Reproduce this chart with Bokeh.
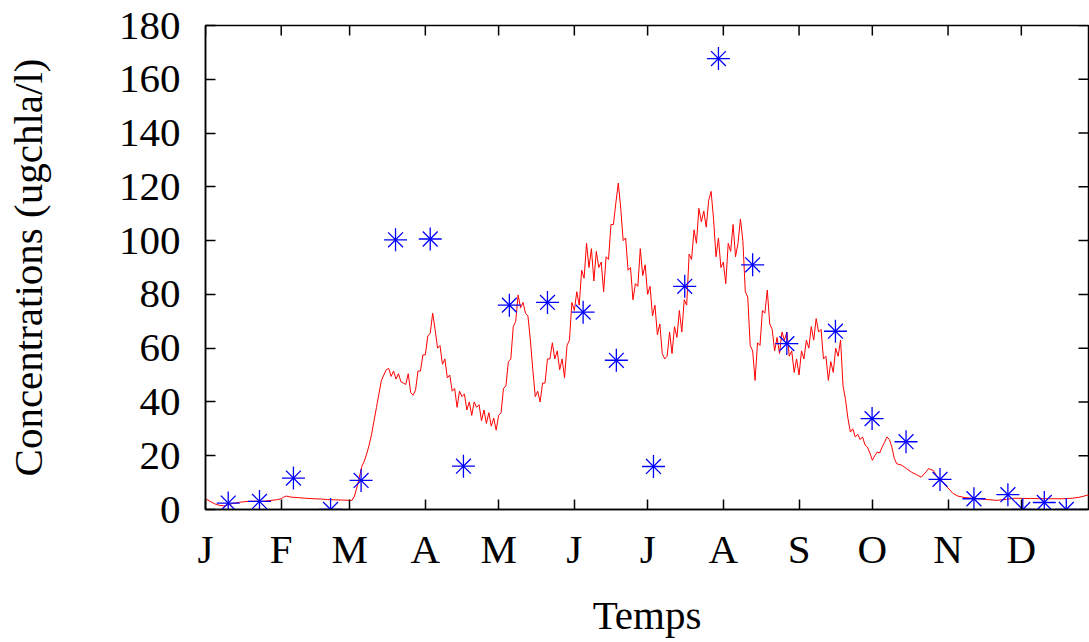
import math
from bokeh.plotting import figure
from bokeh.models import FixedTicker, ColumnDataSource
from bokeh.embed import file_html
from bokeh.resources import INLINE

# ---- data ----
month_starts = [0, 31, 59, 90, 120, 151, 181, 212, 243, 273, 304, 334]
month_labels = ["J", "F", "M", "A", "M", "J", "J", "A", "S", "O", "N", "D"]
y_ticks = [0, 20, 40, 60, 80, 100, 120, 140, 160, 180]
x_end = 361.5
y_top = 180

obs_days = [9.3, 22.1, 36, 51.2, 63.7, 77.8, 92, 105.6, 124.4, 140, 154.6, 168.2,
            183.4, 196.2, 210, 224, 238, 257.9, 272.9, 286.8, 300.7, 314.6,
            328.5, 334.6, 343.4, 352.4]
obs_vals = [2.4, 3.0, 11.7, 0.0, 10.8, 100.3, 100.6, 16.1, 76, 77, 73.4, 55.5,
            16, 83, 167.7, 91, 61.7, 66.3, 33.8, 25.2, 11.2, 4.0,
            5.5, 0.0, 2.6, 0.0]

sim_days_start = [0, 2, 4, 6, 8, 11, 14, 17, 20, 23, 26, 29, 31, 32, 33, 35, 38,
                  41, 44, 47, 50, 53, 56, 59, 60, 61]
sim_vals_start = [4.0, 3.0, 2.0, 1.5, 1.3, 2.2, 2.7, 3.0, 3.1, 3.0, 3.3, 3.6, 4.0,
                  4.6, 5.0, 4.6, 4.4, 4.2, 4.0, 3.9, 3.7, 3.6, 3.5, 3.4, 3.4, 5.0]

# daily values, day 62 .. 264
sim_vals_bloom = [
    8.3, 12, 16, 18, 20.7, 24, 28, 33, 38, 43, 48, 50, 52,            # 62-74
    52.5, 49.5, 51.5, 48.5, 50.5, 47.5, 47, 46.5, 50.5, 43.5,         # 75-84
    42.5, 44.5, 51.5, 51.5, 57.5, 57.5, 64.5, 65.5,                   # 85-92
    73, 67, 60, 61, 54, 56, 49, 50, 44, 45, 38, 44,                   # 93-104
    42, 43, 37, 40, 35, 40, 38, 39, 33, 37,                           # 105-114
    32, 36, 31, 34, 29.5, 35, 36, 45, 46, 55,                         # 115-124
    56, 68, 70, 79.8, 75, 77, 73, 72, 63, 52,                         # 125-134
    42, 44, 40, 47, 47, 56, 56, 62, 56, 59,                           # 135-144
    52, 56, 49, 61, 63, 77, 74, 81, 76, 89,                           # 145-154
    86, 99, 90, 97, 85, 96, 90, 92, 81, 94,                           # 155-164
    93, 106, 106, 114, 121.4, 112, 100, 101, 89, 90,                  # 165-174
    78, 84, 83, 97, 87, 91, 80, 83, 72, 76,                           # 175-184
    65, 69, 58, 56, 57, 66, 58, 68, 64, 74,                           # 185-194
    66, 78, 76, 95, 93, 104, 99, 112, 107, 111,                       # 195-204
    105, 115, 118.3, 108, 94, 101, 90, 92, 84, 99,                    # 205-214
    96, 106, 94, 99, 108, 100, 81, 79, 61, 59,                        # 215-224
    48, 62, 61, 74, 73, 81.6, 69, 67, 59, 64,                         # 225-234
    58, 66, 63, 66, 57, 59, 51, 56, 50, 59,                           # 235-244
    56, 63, 60, 68, 63, 71, 66, 67, 56, 57,                           # 245-254
    48, 55, 51, 60, 57, 63, 46, 41, 34, 28.8,                         # 255-264
]
sim_days_bloom = list(range(62, 62 + len(sim_vals_bloom)))

sim_days_end = [265, 266, 267, 268, 269, 270, 271, 272, 273, 274, 275, 276, 277,
                278, 279, 280, 281, 282, 283, 285, 287, 289, 291, 293, 295, 296,
                298, 300, 302, 304, 306, 308, 311, 314, 317, 320, 324, 328, 331,
                335, 338, 342, 346, 351, 355, 358, 361, 362]
sim_vals_end = [30, 27, 28, 26, 27, 24, 23.2, 21, 18.3, 20, 21.4, 21, 23.2, 25, 27,
                26, 23.2, 19, 17, 16.5, 15.2, 13.9, 13, 12, 14, 15.2, 14.5, 11.5,
                9.8, 8, 6, 5, 4.4, 4.2, 4.0, 3.7, 3.4, 3.8, 4.2, 4.1, 4.1, 4.0,
                4.0, 4.0, 4.2, 4.6, 5.3, 5.5]

sim_days = sim_days_start + sim_days_bloom + sim_days_end
sim_vals = sim_vals_start + sim_vals_bloom + sim_vals_end

FONT = "Liberation Serif"
FS = "41px"

p = figure(width=1089, height=642, x_range=(0, x_end), y_range=(0, y_top),
           output_backend="svg", toolbar_location=None,
           min_border_left=205, min_border_right=1, min_border_top=25,
           min_border_bottom=133)
p.grid.visible = False
p.outline_line_color = "black"
p.outline_line_width = 1.5

xa = p.xaxis[0]
xa.ticker = FixedTicker(ticks=month_starts)
xa.major_label_overrides = {d: l for d, l in zip(month_starts, month_labels)}
xa.axis_label = "Temps"
ya = p.yaxis[0]
ya.ticker = FixedTicker(ticks=y_ticks)
ya.axis_label = "Concentrations (ugchla/l)"

for ax in (xa, ya):
    ax.major_tick_in = 10
    ax.major_tick_out = 0
    ax.minor_tick_line_color = None
    ax.axis_line_width = 1.5
    ax.major_tick_line_width = 1.5
    ax.major_label_text_font = FONT
    ax.major_label_text_font_size = FS
    ax.major_label_text_color = "black"
    ax.axis_label_text_font = FONT
    ax.axis_label_text_font_size = FS
    ax.axis_label_text_font_style = "normal"
    ax.axis_label_text_color = "black"
xa.major_label_standoff = 16
xa.axis_label_standoff = 17
ya.major_label_standoff = 25
ya.axis_label_standoff = 65

# mirrored inward ticks on top and right edges (half of each dash is clipped by the frame)
p.scatter(x=month_starts, y=[y_top] * len(month_starts), marker="dash", angle=math.pi / 2,
          size=20, line_color="black", line_width=1.5)
p.scatter(x=[x_end] * len(y_ticks), y=y_ticks, marker="dash",
          size=20, line_color="black", line_width=1.5)

sim = ColumnDataSource(dict(x=sim_days, y=sim_vals))
obs = ColumnDataSource(dict(x=obs_days, y=obs_vals))
p.line("x", "y", source=sim, line_color="#ff0000", line_width=1)
p.scatter("x", "y", source=obs, marker="cross", size=23, line_color="#0000ff", line_width=1.3)
p.scatter("x", "y", source=obs, marker="x", size=21, line_color="#0000ff", line_width=1.3)

open("out.html", "w").write(file_html(p, INLINE))
